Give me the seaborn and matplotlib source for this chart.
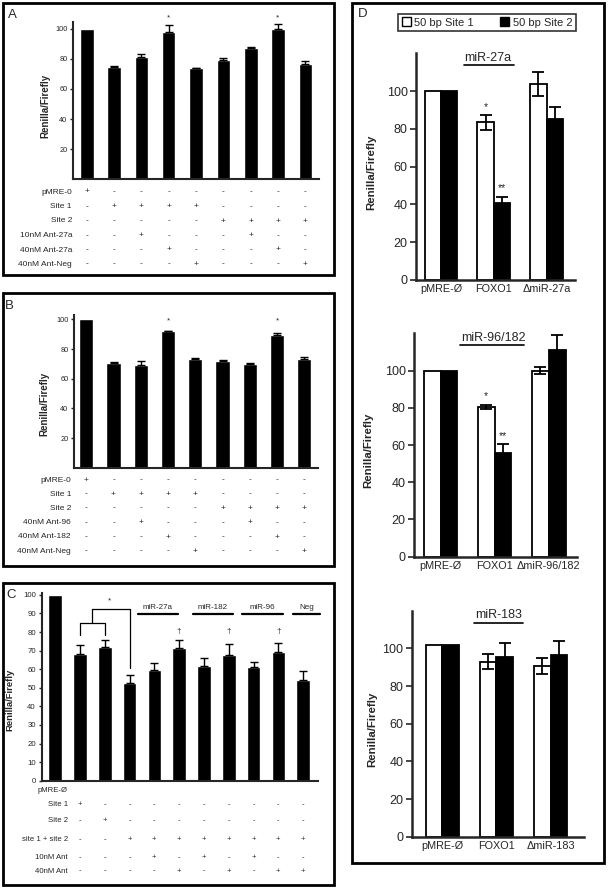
import numpy as np
import pandas as pd
import matplotlib
matplotlib.use('Agg')
import matplotlib.pyplot as plt
import seaborn as sns
from matplotlib.patches import Rectangle, Patch
from matplotlib import transforms

# ---- data ----
a_vals = [100, 74.5, 81.3, 98, 73.6, 79.3, 87.3, 99.5, 76.7]
a_err = [0, 0.8, 2, 4.4, 0.4, 1.3, 0.8, 3.5, 1.5]
a_rows = ['pMRE-0', 'Site 1', 'Site 2', '10nM Ant-27a', '40nM Ant-27a', '40nM Ant-Neg']
a_signs = ['+--------', '-++++----', '-----++++', '--+---+--', '---+---+-', '----+---+']
a_stars = [3, 7]

b_vals = [100, 70.3, 69.4, 91.9, 73.4, 72.1, 70, 89.2, 73.4]
b_err = [0, 0.7, 2.9, 0.6, 0.7, 0.7, 0.3, 1.6, 1.4]
b_rows = ['pMRE-0', 'Site 1', 'Site 2', '40nM Ant-96', '40nM Ant-182', '40nM Ant-Neg']
b_signs = ['+--------', '-++++----', '-----++++', '--+---+--', '---+---+-', '----+---+']
b_stars = [3, 7]

c_vals = [100, 68.3, 72.1, 52.6, 59.7, 71.6, 61.6, 67.8, 61.1, 69.4, 54.3]
c_err = [0, 4.7, 3.4, 4.2, 3.9, 4.1, 4.2, 5.7, 2.9, 4.6, 4.5]
c_rows = ['pMRE-Ø', 'Site 1', 'Site 2', 'site 1 + site 2', '10nM Ant', '40nM Ant']
c_signs = ['', '+---------', '-+--------', '--++++++++', '---+-+-+--', '----+-+-++']
c_groups = ['miR-27a', 'miR-182', 'miR-96', 'Neg']
c_group_span = [(3.33, 4.95), (5.56, 7.17), (7.54, 9.19), (9.6, 10.7)]
c_daggers = [5, 7, 9]

d_sites = ['50 bp Site 1', '50 bp Site 2']
d_titles = ['miR-27a', 'miR-96/182', 'miR-183']
d_cons = [['pMRE-Ø', 'FOXO1', 'ΔmiR-27a'],
          ['pMRE-Ø', 'FOXO1', 'ΔmiR-96/182'],
          ['pMRE-Ø', 'FOXO1', 'ΔmiR-183']]
d_site1 = [[100, 83.4, 103.8], [100, 80.6, 100], [101.9, 93, 90.7]]
d_site1_err = [[0, 3.8, 6.2], [0, 1, 1.8], [0, 3.9, 4.4]]
d_site2 = [[100, 40.5, 85.3], [100, 55.9, 111], [101.9, 95.2, 96.3]]
d_site2_err = [[0, 3.5, 6.5], [0, 4.5, 8], [0, 7.6, 7.8]]
d_stars = [True, True, False]

# ---- layout ----
W, H = 608, 888
sns.set_style('ticks')
plt.rcParams['font.family'] = ['Liberation Sans', 'DejaVu Sans']
fig = plt.figure(figsize=(W / 100, H / 100), dpi=100)


def px_ax(l, t, r, b):
    return fig.add_axes([l / W, 1 - b / H, (r - l) / W, (b - t) / H])


def box(l, t, r, b):
    fig.add_artist(Rectangle((l / W, 1 - b / H), (r - l) / W, (b - t) / H,
                             transform=fig.transFigure, fill=False, lw=2, color='black'))


def style_small(ax, lw=1.5, size=5.3):
    sns.despine(ax=ax)
    ax.spines['left'].set_linewidth(lw)
    ax.spines['bottom'].set_linewidth(lw)
    ax.tick_params(axis='y', labelsize=size, length=2.5, width=1, pad=1.5)
    ax.tick_params(axis='x', bottom=False, labelbottom=False)
    ax.set_xlabel('')


def table(ax, rows, signs, row_y, label_x, size, x0=0):
    trans = transforms.blended_transform_factory(ax.transData, fig.transFigure)
    for label, s, py in zip(rows, signs, row_y):
        fig.text(label_x / W, 1 - py / H, label, ha='right', va='center', fontsize=size)
        for i, ch in enumerate(s):
            ax.text(x0 + i, 1 - py / H, ch, transform=trans, ha='center', va='center',
                    fontsize=size)


def simple_bars(ax, vals, errs, width, capsize):
    x = np.arange(len(vals))
    sns.barplot(x=x, y=vals, color='black', saturation=1, width=width, ax=ax, errorbar=None)
    e = np.array(errs)
    m = e > 0
    ax.errorbar(x[m], np.array(vals)[m], yerr=[np.zeros(m.sum()), e[m]], fmt='none',
                ecolor='black', elinewidth=1, capsize=capsize, capthick=1)


# Panel A
box(3, 3, 334, 275)
fig.text(8 / W, 1 - 15 / H, 'A', fontsize=9.5, va='center')
ax_a = px_ax(73, 22.5, 319, 179.5)
simple_bars(ax_a, a_vals, a_err, 0.5, 2.8)
ax_a.set_xlim(-0.5, 8.5)
ax_a.set_ylim(0, 104)
ax_a.set_yticks([20, 40, 60, 80, 100])
style_small(ax_a)
ax_a.set_ylabel('Renilla/Firefly', fontsize=7, fontweight='bold')
ax_a.yaxis.set_label_coords(-0.093, 0.47)
for i in a_stars:
    ax_a.text(i, 107, '*', ha='center', va='center', fontsize=6, clip_on=False)
table(ax_a, a_rows, a_signs, [192, 206.5, 221, 235.5, 250, 264], 72, 6)

# Panel B
box(3, 293, 334, 566)
fig.text(5 / W, 1 - 306 / H, 'B', fontsize=9.5, va='center')
ax_b = px_ax(74, 315, 318, 467.7)
simple_bars(ax_b, b_vals, b_err, 0.52, 2.8)
ax_b.set_xlim(-0.45, 8.5)
ax_b.set_ylim(0, 103)
ax_b.set_yticks([20, 40, 60, 80, 100])
style_small(ax_b)
ax_b.set_ylabel('Renilla/Firefly', fontsize=7, fontweight='bold')
ax_b.yaxis.set_label_coords(-0.1, 0.42)
for i in b_stars:
    ax_b.text(i, 99, '*', ha='center', va='center', fontsize=6, clip_on=False)
table(ax_b, b_rows, b_signs, [480, 494, 508, 522.5, 537, 551], 71, 6)

# Panel C
box(3, 583, 334, 885)
fig.text(6 / W, 1 - 595 / H, 'C', fontsize=9.5, va='center')
ax_c = px_ax(41.5, 593, 318, 780.7)
simple_bars(ax_c, c_vals, c_err, 0.55, 2.8)
ax_c.set_xlim(-0.55, 10.6)
ax_c.set_ylim(0, 101)
ax_c.set_yticks(range(0, 101, 10))
style_small(ax_c, size=5.6)
ax_c.set_ylabel('Renilla/Firefly', fontsize=6.8, fontweight='bold')
ax_c.yaxis.set_label_coords(-0.097, 0.43)
# significance brackets
ax_c.plot([1, 1, 2, 2], [78.5, 85, 85, 78.5], color='black', lw=0.9, clip_on=False)
ax_c.plot([1.5, 1.5, 3, 3], [85, 92.3, 92.3, 60.4], color='black', lw=0.9, clip_on=False)
ax_c.text(2.2, 96.6, '*', ha='center', va='center', fontsize=6, clip_on=False)
for name, (s, e) in zip(c_groups, c_group_span):
    ax_c.plot([s, e], [89.5, 89.5], color='black', lw=1.6, clip_on=False)
    ax_c.text((s + e) / 2, 93.3, name, ha='center', va='center', fontsize=5.8, clip_on=False)
for i in c_daggers:
    ax_c.text(i, 80.5, '†', ha='center', va='center', fontsize=6, clip_on=False)
table(ax_c, c_rows, c_signs, [791, 804.5, 820.7, 839.3, 857.3, 871], 68, 5.6, x0=1)

# Panel D
box(352, 3, 604, 863)
fig.text(358 / W, 1 - 14 / H, 'D', fontsize=9.5, va='center')
handles = [Patch(facecolor='white', edgecolor='black', lw=1),
           Patch(facecolor='black', edgecolor='black', lw=1)]
leg = fig.legend(handles, d_sites, loc='center', bbox_to_anchor=(487 / W, 1 - 22.5 / H),
                 ncol=2, frameon=True, fancybox=False, edgecolor='black', fontsize=8,
                 handlelength=0.8, handleheight=0.8, columnspacing=2.4, handletextpad=0.3,
                 borderpad=0.35)
leg.get_frame().set_linewidth(1.2)

d_boxes = [(416, 53.3, 575, 280), (414, 333.3, 577, 556.7), (411.7, 610.7, 584, 836.7)]
d_xlims = [(-0.474, 2.54), (-0.49, 2.52), (-0.57, 2.62)]
d_title_pos = [(0.89, 0.44, 1.38), (0.97, 0.36, 1.54), (1.03, 0.58, 1.49)]
d_label_x = [-0.247, -0.25, -0.2]

for k in range(3):
    ax = px_ax(*d_boxes[k])
    df = pd.DataFrame({'construct': d_cons[k] * 2,
                       'site': [d_sites[0]] * 3 + [d_sites[1]] * 3,
                       'value': d_site1[k] + d_site2[k]})
    sns.barplot(data=df, x='construct', y='value', hue='site', palette=['white', 'black'],
                saturation=1, edgecolor='black', linewidth=1.3, width=0.62, ax=ax,
                errorbar=None, legend=False)
    for cont, vals, errs in zip(ax.containers, [d_site1[k], d_site2[k]],
                                [d_site1_err[k], d_site2_err[k]]):
        xs = np.array([p.get_x() + p.get_width() / 2 for p in cont])
        e = np.array(errs)
        m = e > 0
        ax.errorbar(xs[m], np.array(vals)[m], yerr=e[m], fmt='none', ecolor='black',
                    elinewidth=1.3, capsize=4.5, capthick=1.3)
    if d_stars[k]:
        xs1 = ax.containers[0][1].get_x() + ax.containers[0][1].get_width() / 2
        xs2 = ax.containers[1][1].get_x() + ax.containers[1][1].get_width() / 2
        ax.text(xs1, d_site1[k][1] + d_site1_err[k][1] + 4.5, '*', ha='center',
                va='center', fontsize=7.5)
        ax.text(xs2, d_site2[k][1] + d_site2_err[k][1] + 4.5, '**', ha='center',
                va='center', fontsize=7.5)
    ax.set_xlim(*d_xlims[k])
    ax.set_ylim(0, 120)
    ax.set_yticks(range(0, 101, 20))
    sns.despine(ax=ax)
    ax.spines['left'].set_linewidth(1.8)
    ax.spines['bottom'].set_linewidth(1.8)
    ax.tick_params(axis='y', labelsize=9, length=4, width=1.2, pad=2)
    ax.tick_params(axis='x', labelsize=7.8, length=0, pad=3)
    ax.set_xlabel('')
    ax.set_ylabel('Renilla/Firefly', fontsize=8.2, fontweight='bold')
    ax.yaxis.set_label_coords(d_label_x[k], 0.475)
    tx, ls, le = d_title_pos[k]
    ax.text(tx, 117.5, d_titles[k], ha='center', va='center', fontsize=9)
    ax.plot([ls, le], [113.6, 113.6], color='black', lw=1.2, clip_on=False)

fig.savefig('out.png', dpi=100)
